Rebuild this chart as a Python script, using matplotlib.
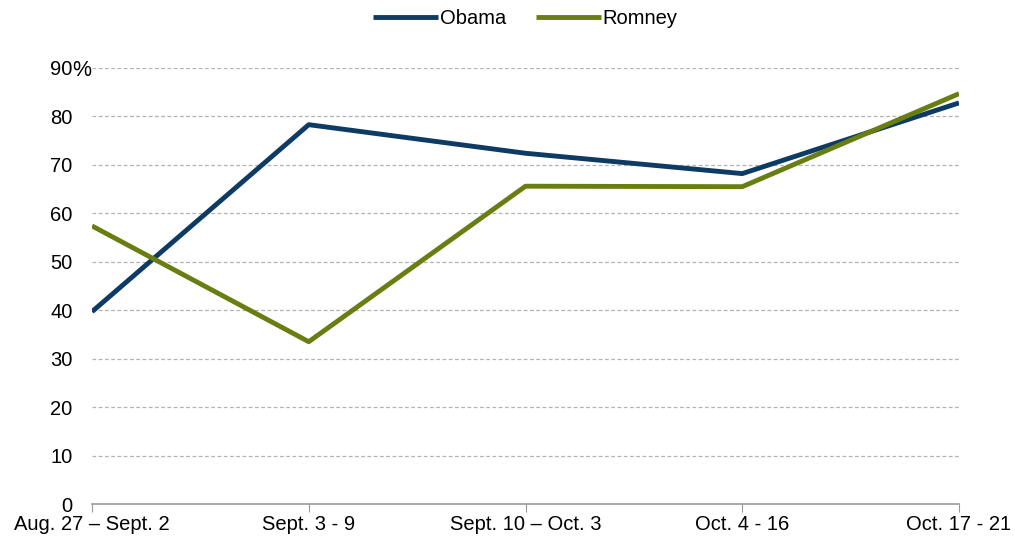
import matplotlib.pyplot as plt

periods = ["Aug. 27 – Sept. 2", "Sept. 3 - 9", "Sept. 10 – Oct. 3", "Oct. 4 - 16", "Oct. 17 - 21"]
obama = [39.7, 78.3, 72.4, 68.2, 82.8]
romney = [57.4, 33.5, 65.6, 65.5, 84.7]
yticks = [0, 10, 20, 30, 40, 50, 60, 70, 80, 90]
ylabels = ["0", "10", "20", "30", "40", "50", "60", "70", "80", "90"]

plt.rcParams['font.family'] = ['Liberation Sans', 'DejaVu Sans']

fig = plt.figure(figsize=(10.15, 5.41), dpi=100)
ax = fig.add_axes([92/1015, 37/541, (959-92)/1015, (504-68)/541])

x = list(range(len(periods)))
ax.plot(x, obama, color='#0d3b63', lw=3.5, label='Obama', solid_capstyle='butt', zorder=3)
ax.plot(x, romney, color='#687e10', lw=3.5, label='Romney', solid_capstyle='butt', zorder=3)

ax.set_xlim(0, len(periods) - 1)
ax.set_ylim(0, 90)
ax.set_yticks(yticks)
ax.set_yticklabels(ylabels, fontsize=14.5)
ax.set_xticks(x)
ax.set_xticklabels(periods, fontsize=14.5)

# percent sign hangs off the top label, as in the original
ax.annotate('%', xy=(0, 90), xycoords=('axes fraction', 'data'),
            xytext=(-14, 0), textcoords='offset points',
            ha='left', va='center_baseline', fontsize=15.5)

for y in yticks[1:]:
    ax.axhline(y, color='#b3b3b3', lw=0.9, ls=(0, (3, 2)), zorder=1)

for s in ['top', 'right', 'left']:
    ax.spines[s].set_visible(False)
ax.spines['bottom'].set_color('#999999')
ax.spines['bottom'].set_linewidth(1.2)
ax.tick_params(axis='y', length=0, pad=14)
ax.tick_params(axis='x', direction='out', length=6, color='#999999', pad=2)

ax.legend(loc='lower center', bbox_to_anchor=(0.5, 1.05), ncol=2, frameon=False,
          fontsize=14.5, handlelength=3.2, handletextpad=0.1, columnspacing=1.5)

fig.savefig('out.png', dpi=100)
